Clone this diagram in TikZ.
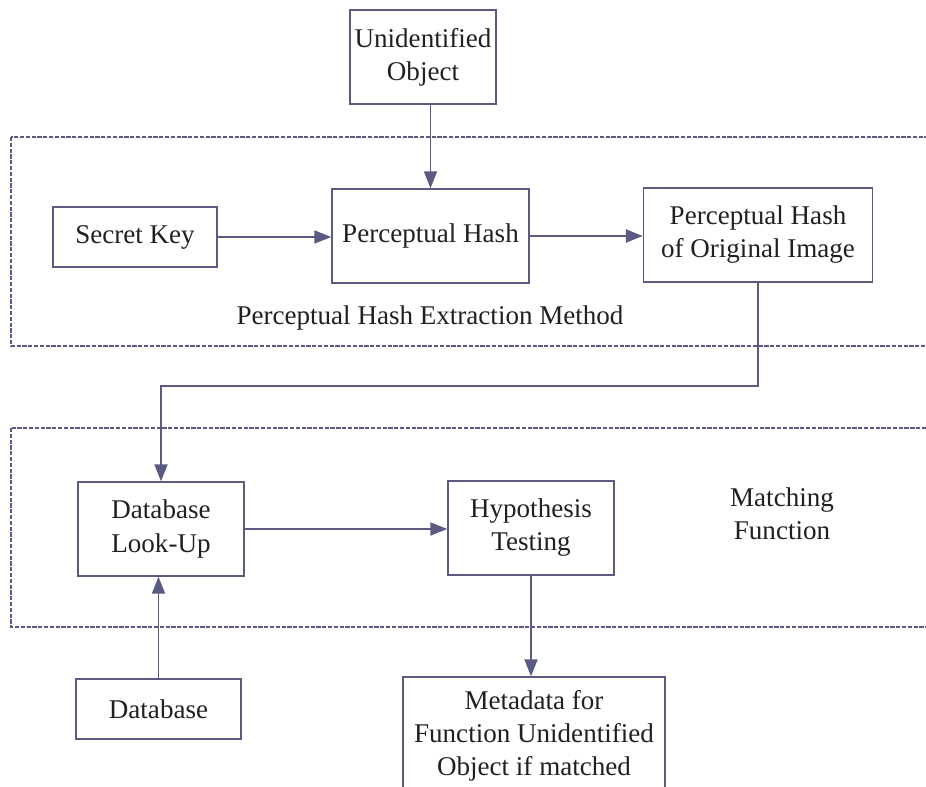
\documentclass[tikz,border=0pt]{standalone}
\usepackage{fontspec}
\setmainfont{Liberation Serif}
\usepackage{tikz}
\usetikzlibrary{arrows.meta, positioning}
\definecolor{lineblue}{RGB}{90,90,130}
\definecolor{textdark}{RGB}{35,31,32}
\tikzstyle{block} = [rectangle, draw=lineblue, line width=0.8pt, inner sep=0pt, align=center, text=textdark, font=\fontsize{15.4}{18.8}\selectfont]
\tikzstyle{caption} = [inner sep=0pt, align=center, text=textdark, font=\fontsize{15.4}{18.8}\selectfont]
\tikzstyle{arrow} = [draw=lineblue, line width=1.1pt, -{Triangle[length=0.34cm, width=0.26cm]}]
\tikzstyle{frame} = [draw=lineblue, line width=1.2pt, dash pattern=on 2.4pt off 0.9pt]

\begin{document}
\begin{tikzpicture}[x=0.02cm, y=-0.02cm]
\useasboundingbox (0,0) rectangle (926,787);
% outer frames
\draw [frame] (11,137) rectangle (945,346);
\draw [frame] (11,428) rectangle (945,627);
% blocks
\node (uo) [block, minimum width=2.92cm, minimum height=1.88cm] at (423,57) {Unidentified\\Object};
\node (sk) [block, minimum width=3.28cm, minimum height=1.2cm] at (135,237) {Secret Key};
\node (ph) [block, minimum width=3.94cm, minimum height=1.88cm] at (430.5,236) {Perceptual Hash};
\node (phoi) [block, minimum width=4.58cm, minimum height=1.88cm] at (758,235) {Perceptual Hash\\of Original Image};
\node (dlu) [block, minimum width=3.32cm, minimum height=1.88cm] at (161,529) {Database\\Look-Up};
\node (ht) [block, minimum width=3.32cm, minimum height=1.88cm] at (531,528) {Hypothesis\\Testing};
\node (db) [block, minimum width=3.3cm, minimum height=1.2cm] at (158.5,709) {Database};
\node (md) [block, minimum width=5.24cm, minimum height=2.36cm] at (534,736) {Metadata for\\Function Unidentified\\Object if matched};
% frame captions
\node (phem) [caption] at (430,318) {Perceptual Hash Extraction Method};
\node (mf) [caption] at (782,514) {Matching\\Function};
% connectors
\coordinate (bend) at (0,386);
\draw [arrow] (ph.north |- uo.south) -- (ph.north);
\draw [arrow] (sk.east) -- (sk.east -| ph.west);
\draw [arrow] (ph.east) -- (ph.east -| phoi.west);
\draw [arrow] (phoi.south) -- (phoi.south |- bend) -| (dlu.north);
\draw [arrow] (dlu.east) -- (dlu.east -| ht.west);
\draw [arrow] (db.north) -- (db.north |- dlu.south);
\draw [arrow] (ht.south) -- (ht.south |- md.north);
\end{tikzpicture}
\end{document}
